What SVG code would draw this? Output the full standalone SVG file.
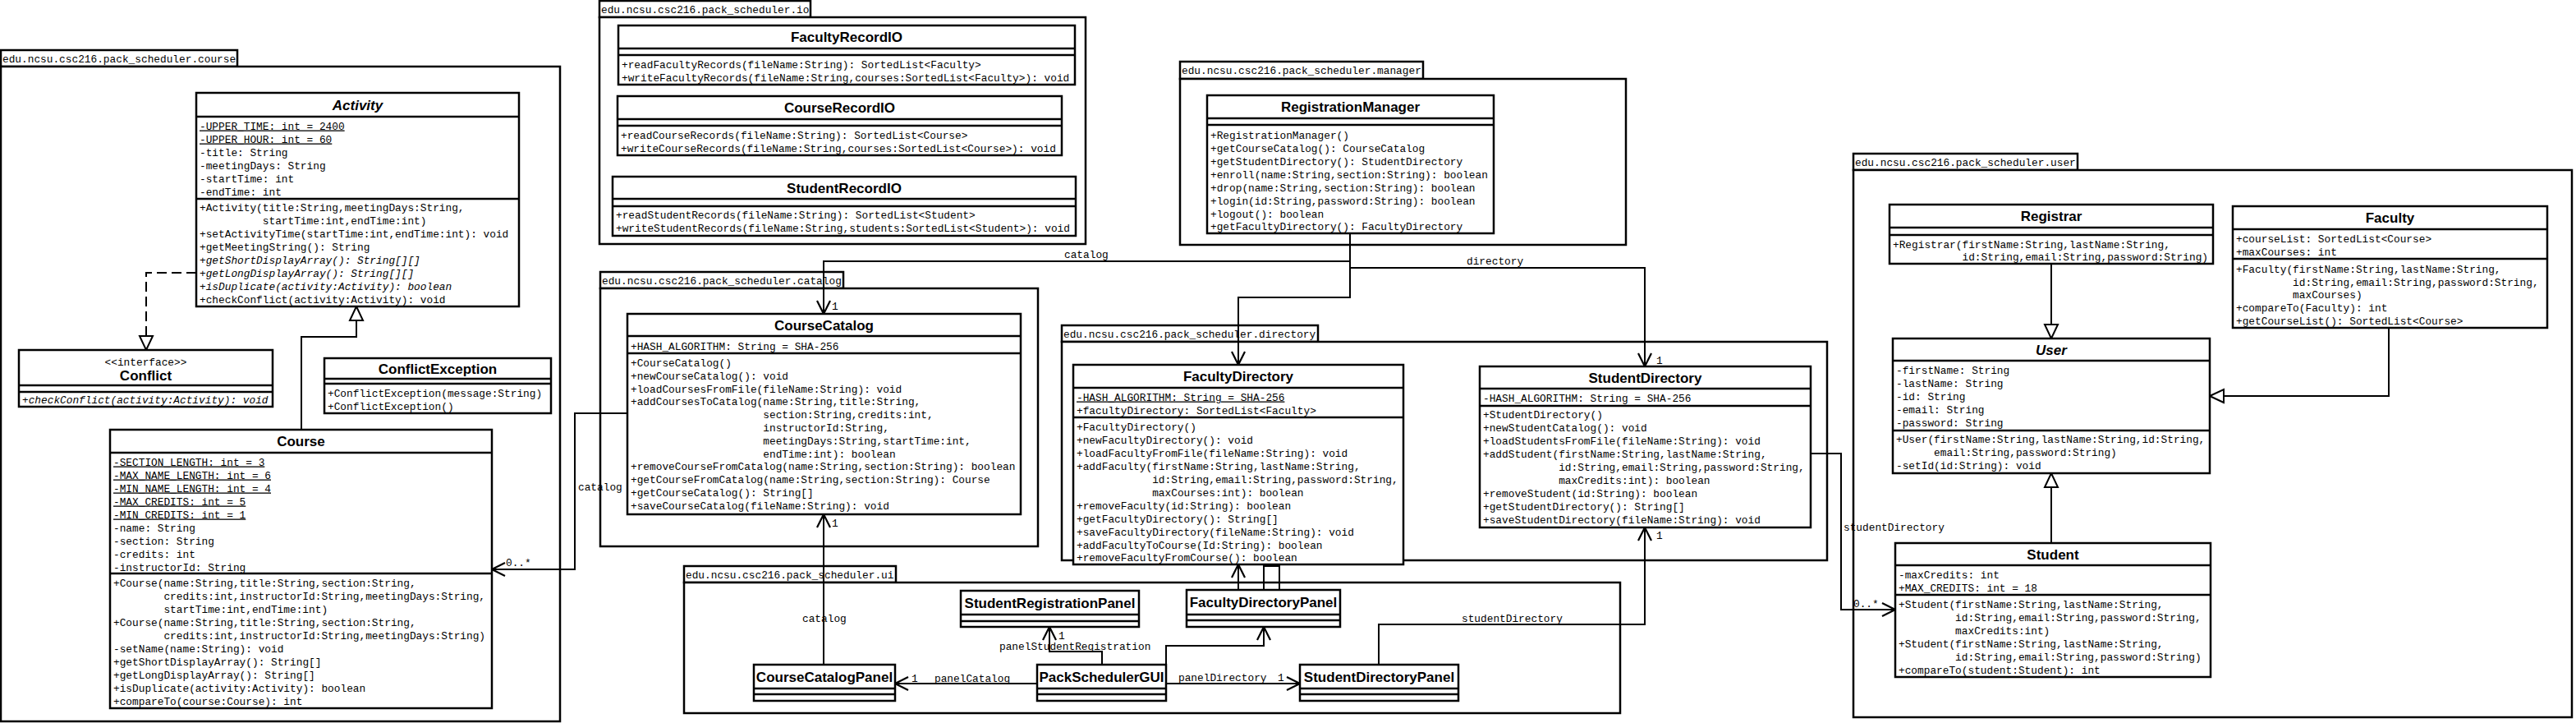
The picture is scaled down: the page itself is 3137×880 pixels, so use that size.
<svg xmlns="http://www.w3.org/2000/svg" width="3137" height="880" viewBox="0 0 3137 880">
<defs>
<style>
.pk{fill:#fff;stroke:#000;stroke-width:2.5}
.bx{fill:#fff;stroke:#000;stroke-width:2.5}
.sp{stroke:#000;stroke-width:2.5}
.m{font-family:"Liberation Mono","DejaVu Sans Mono",monospace;font-size:12.8px;fill:#000}
.i{font-style:italic}
.u{text-decoration:underline}
.mid{text-anchor:middle}
.t{font-family:"Liberation Sans",Arial,sans-serif;font-weight:bold;font-size:17px;text-anchor:middle;fill:#000}
.c{fill:none;stroke:#000;stroke-width:2}
.d{stroke-dasharray:12 6}
</style>
<marker id="open" viewBox="0 0 18 18" refX="17" refY="9" markerWidth="18" markerHeight="18" orient="auto" markerUnits="userSpaceOnUse">
<path d="M1,1 L17,9 L1,17" fill="none" stroke="#000" stroke-width="2.2" stroke-dasharray="none"/>
</marker>
<marker id="tri" viewBox="0 0 20 20" refX="19" refY="10" markerWidth="20" markerHeight="20" orient="auto" markerUnits="userSpaceOnUse">
<path d="M2,2 L19,10 L2,18 Z" fill="#fff" stroke="#000" stroke-width="2" stroke-dasharray="none"/>
</marker>
</defs>
<rect width="3137" height="880" fill="#fff"/>

<!-- packages -->
<g id="pkg-course">
<rect class="pk" x="1" y="61" width="288" height="20"/>
<rect class="pk" x="1" y="81" width="681" height="797"/>
<text class="m" x="3" y="76">edu.ncsu.csc216.pack_scheduler.course</text>
</g>
<g id="pkg-io">
<rect class="pk" x="730" y="1" width="257" height="20"/>
<rect class="pk" x="730" y="21" width="592" height="276"/>
<text class="m" x="732" y="16">edu.ncsu.csc216.pack_scheduler.io</text>
</g>
<g id="pkg-manager">
<rect class="pk" x="1437" y="75" width="296" height="21"/>
<rect class="pk" x="1437" y="96" width="543" height="202"/>
<text class="m" x="1439" y="90">edu.ncsu.csc216.pack_scheduler.manager</text>
</g>
<g id="pkg-catalog">
<rect class="pk" x="731" y="331" width="296" height="20"/>
<rect class="pk" x="731" y="351" width="533" height="314"/>
<text class="m" x="733" y="346">edu.ncsu.csc216.pack_scheduler.catalog</text>
</g>
<g id="pkg-directory">
<rect class="pk" x="1293" y="396" width="312" height="20"/>
<rect class="pk" x="1293" y="416" width="932" height="266"/>
<text class="m" x="1295" y="411">edu.ncsu.csc216.pack_scheduler.directory</text>
</g>
<g id="pkg-ui">
<rect class="pk" x="833" y="689" width="258" height="20"/>
<rect class="pk" x="833" y="709" width="1140" height="159"/>
<text class="m" x="835" y="704">edu.ncsu.csc216.pack_scheduler.ui</text>
</g>
<g id="pkg-user">
<rect class="pk" x="2257" y="187" width="273" height="20"/>
<rect class="pk" x="2257" y="207" width="875" height="666"/>
<text class="m" x="2259" y="202">edu.ncsu.csc216.pack_scheduler.user</text>
</g>

<!-- classes -->
<g id="Activity">
<rect class="bx" x="239" y="113" width="393" height="260"/>
<line class="sp" x1="239" y1="142" x2="632" y2="142"/>
<line class="sp" x1="239" y1="242" x2="632" y2="242"/>
<text class="t" font-style="italic" x="435.5" y="133.5">Activity</text>
<text class="m u" x="243" y="157.5">-UPPER_TIME: int = 2400</text>
<text class="m u" x="243" y="173.5">-UPPER_HOUR: int = 60</text>
<text class="m" x="243" y="189.5">-title: String</text>
<text class="m" x="243" y="205.5">-meetingDays: String</text>
<text class="m" x="243" y="221.5">-startTime: int</text>
<text class="m" x="243" y="237.5">-endTime: int</text>
<text class="m" x="243" y="256.5">+Activity(title:String,meetingDays:String,</text>
<text class="m" x="319.8" y="272.5">startTime:int,endTime:int)</text>
<text class="m" x="243" y="288.5">+setActivityTime(startTime:int,endTime:int): void</text>
<text class="m" x="243" y="304.5">+getMeetingString(): String</text>
<text class="m i" x="243" y="320.5">+getShortDisplayArray(): String[][]</text>
<text class="m i" x="243" y="336.5">+getLongDisplayArray(): String[][]</text>
<text class="m i" x="243" y="352.5">+isDuplicate(activity:Activity): boolean</text>
<text class="m" x="243" y="368.5">+checkConflict(activity:Activity): void</text>
</g>
<g id="Conflict">
<rect class="bx" x="23" y="426" width="309" height="69"/>
<line class="sp" x1="23" y1="469" x2="332" y2="469"/>
<line class="sp" x1="23" y1="477" x2="332" y2="477"/>
<text class="m mid" x="177.5" y="445">&lt;&lt;interface&gt;&gt;</text>
<text class="t" x="177.5" y="463">Conflict</text>
<text class="m i" x="27" y="490.5">+checkConflict(activity:Activity): void</text>
</g>
<g id="ConflictException">
<rect class="bx" x="395" y="436" width="276" height="67"/>
<line class="sp" x1="395" y1="461" x2="671" y2="461"/>
<line class="sp" x1="395" y1="467" x2="671" y2="467"/>
<text class="t" x="533" y="454.5">ConflictException</text>
<text class="m" x="399" y="482.5">+ConflictException(message:String)</text>
<text class="m" x="399" y="498.5">+ConflictException()</text>
</g>
<g id="Course">
<rect class="bx" x="134" y="523" width="465" height="339"/>
<line class="sp" x1="134" y1="551" x2="599" y2="551"/>
<line class="sp" x1="134" y1="698" x2="599" y2="698"/>
<text class="t" x="366.5" y="543">Course</text>
<text class="m u" x="138" y="566.5">-SECTION_LENGTH: int = 3</text>
<text class="m u" x="138" y="582.5">-MAX_NAME_LENGTH: int = 6</text>
<text class="m u" x="138" y="598.5">-MIN_NAME_LENGTH: int = 4</text>
<text class="m u" x="138" y="614.5">-MAX_CREDITS: int = 5</text>
<text class="m u" x="138" y="630.5">-MIN_CREDITS: int = 1</text>
<text class="m" x="138" y="646.5">-name: String</text>
<text class="m" x="138" y="662.5">-section: String</text>
<text class="m" x="138" y="678.5">-credits: int</text>
<text class="m" x="138" y="694.5">-instructorId: String</text>
<text class="m" x="138" y="713.5">+Course(name:String,title:String,section:String,</text>
<text class="m" x="199.4" y="729.5">credits:int,instructorId:String,meetingDays:String,</text>
<text class="m" x="199.4" y="745.5">startTime:int,endTime:int)</text>
<text class="m" x="138" y="761.5">+Course(name:String,title:String,section:String,</text>
<text class="m" x="199.4" y="777.5">credits:int,instructorId:String,meetingDays:String)</text>
<text class="m" x="138" y="793.5">-setName(name:String): void</text>
<text class="m" x="138" y="809.5">+getShortDisplayArray(): String[]</text>
<text class="m" x="138" y="825.5">+getLongDisplayArray(): String[]</text>
<text class="m" x="138" y="841.5">+isDuplicate(activity:Activity): boolean</text>
<text class="m" x="138" y="857.5">+compareTo(course:Course): int</text>
</g>
<g id="FacultyRecordIO">
<rect class="bx" x="753" y="31" width="556" height="72"/>
<line class="sp" x1="753" y1="59" x2="1309" y2="59"/>
<line class="sp" x1="753" y1="67" x2="1309" y2="67"/>
<text class="t" x="1031" y="51">FacultyRecordIO</text>
<text class="m" x="757" y="82.5">+readFacultyRecords(fileName:String): SortedList&lt;Faculty&gt;</text>
<text class="m" x="757" y="98.5">+writeFacultyRecords(fileName:String,courses:SortedList&lt;Faculty&gt;): void</text>
</g>
<g id="CourseRecordIO">
<rect class="bx" x="752" y="117" width="541" height="72"/>
<line class="sp" x1="752" y1="145" x2="1293" y2="145"/>
<line class="sp" x1="752" y1="153" x2="1293" y2="153"/>
<text class="t" x="1022.5" y="137">CourseRecordIO</text>
<text class="m" x="756" y="168.5">+readCourseRecords(fileName:String): SortedList&lt;Course&gt;</text>
<text class="m" x="756" y="184.5">+writeCourseRecords(fileName:String,courses:SortedList&lt;Course&gt;): void</text>
</g>
<g id="StudentRecordIO">
<rect class="bx" x="746" y="215" width="564" height="72"/>
<line class="sp" x1="746" y1="242" x2="1310" y2="242"/>
<line class="sp" x1="746" y1="251" x2="1310" y2="251"/>
<text class="t" x="1028" y="234.5">StudentRecordIO</text>
<text class="m" x="750" y="265.5">+readStudentRecords(fileName:String): SortedList&lt;Student&gt;</text>
<text class="m" x="750" y="281.5">+writeStudentRecords(fileName:String,students:SortedList&lt;Student&gt;): void</text>
</g>
<g id="RegistrationManager">
<rect class="bx" x="1470" y="116" width="349" height="168"/>
<line class="sp" x1="1470" y1="144" x2="1819" y2="144"/>
<line class="sp" x1="1470" y1="152" x2="1819" y2="152"/>
<text class="t" x="1644.5" y="136">RegistrationManager</text>
<text class="m" x="1474" y="168.5">+RegistrationManager()</text>
<text class="m" x="1474" y="184.5">+getCourseCatalog(): CourseCatalog</text>
<text class="m" x="1474" y="200.5">+getStudentDirectory(): StudentDirectory</text>
<text class="m" x="1474" y="216.5">+enroll(name:String,section:String): boolean</text>
<text class="m" x="1474" y="232.5">+drop(name:String,section:String): boolean</text>
<text class="m" x="1474" y="248.5">+login(id:String,password:String): boolean</text>
<text class="m" x="1474" y="264.5">+logout(): boolean</text>
<text class="m" x="1474" y="280">+getFacultyDirectory(): FacultyDirectory</text>
</g>
<g id="CourseCatalog">
<rect class="bx" x="764" y="382" width="479" height="244"/>
<line class="sp" x1="764" y1="409" x2="1243" y2="409"/>
<line class="sp" x1="764" y1="430" x2="1243" y2="430"/>
<text class="t" x="1003.5" y="401.5">CourseCatalog</text>
<text class="m" x="768" y="425.5">+HASH_ALGORITHM: String = SHA-256</text>
<text class="m" x="768" y="446">+CourseCatalog()</text>
<text class="m" x="768" y="461.8">+newCourseCatalog(): void</text>
<text class="m" x="768" y="477.6">+loadCoursesFromFile(fileName:String): void</text>
<text class="m" x="768" y="493.4">+addCoursesToCatalog(name:String,title:String,</text>
<text class="m" x="929.3" y="509.2">section:String,credits:int,</text>
<text class="m" x="929.3" y="525">instructorId:String,</text>
<text class="m" x="929.3" y="540.8">meetingDays:String,startTime:int,</text>
<text class="m" x="929.3" y="556.6">endTime:int): boolean</text>
<text class="m" x="768" y="572.4">+removeCourseFromCatalog(name:String,section:String): boolean</text>
<text class="m" x="768" y="588.2">+getCourseFromCatalog(name:String,section:String): Course</text>
<text class="m" x="768" y="604">+getCourseCatalog(): String[]</text>
<text class="m" x="768" y="619.8">+saveCourseCatalog(fileName:String): void</text>
</g>
<g id="FacultyDirectory">
<rect class="bx" x="1307" y="444" width="402" height="243"/>
<line class="sp" x1="1307" y1="472" x2="1709" y2="472"/>
<line class="sp" x1="1307" y1="508" x2="1709" y2="508"/>
<text class="t" x="1508" y="464">FacultyDirectory</text>
<text class="m u" x="1311" y="487.5">-HASH_ALGORITHM: String = SHA-256</text>
<text class="m" x="1311" y="503.5">+facultyDirectory: SortedList&lt;Faculty&gt;</text>
<text class="m" x="1311" y="523.5">+FacultyDirectory()</text>
<text class="m" x="1311" y="539.5">+newFacultyDirectory(): void</text>
<text class="m" x="1311" y="555.5">+loadFacultyFromFile(fileName:String): void</text>
<text class="m" x="1311" y="571.5">+addFaculty(firstName:String,lastName:String,</text>
<text class="m" x="1403.2" y="587.5">id:String,email:String,password:String,</text>
<text class="m" x="1403.2" y="603.5">maxCourses:int): boolean</text>
<text class="m" x="1311" y="619.5">+removeFaculty(id:String): boolean</text>
<text class="m" x="1311" y="635.5">+getFacultyDirectory(): String[]</text>
<text class="m" x="1311" y="651.5">+saveFacultyDirectory(fileName:String): void</text>
<text class="m" x="1311" y="667.5">+addFacultyToCourse(Id:String): boolean</text>
<text class="m" x="1311" y="683">+removeFacultyFromCourse(): boolean</text>
</g>
<g id="StudentDirectory">
<rect class="bx" x="1802" y="446" width="403" height="196"/>
<line class="sp" x1="1802" y1="473" x2="2205" y2="473"/>
<line class="sp" x1="1802" y1="494" x2="2205" y2="494"/>
<text class="t" x="2003.5" y="465.5">StudentDirectory</text>
<text class="m" x="1806" y="488.5">-HASH_ALGORITHM: String = SHA-256</text>
<text class="m" x="1806" y="508.5">+StudentDirectory()</text>
<text class="m" x="1806" y="524.5">+newStudentCatalog(): void</text>
<text class="m" x="1806" y="540.5">+loadStudentsFromFile(fileName:String): void</text>
<text class="m" x="1806" y="556.5">+addStudent(firstName:String,lastName:String,</text>
<text class="m" x="1898.2" y="572.5">id:String,email:String,password:String,</text>
<text class="m" x="1898.2" y="588.5">maxCredits:int): boolean</text>
<text class="m" x="1806" y="604.5">+removeStudent(id:String): boolean</text>
<text class="m" x="1806" y="620.5">+getStudentDirectory(): String[]</text>
<text class="m" x="1806" y="636.5">+saveStudentDirectory(fileName:String): void</text>
</g>
<g id="StudentRegistrationPanel">
<rect class="bx" x="1170" y="719" width="217" height="44"/>
<line class="sp" x1="1170" y1="748" x2="1387" y2="748"/>
<line class="sp" x1="1170" y1="756" x2="1387" y2="756"/>
<text class="t" x="1278.5" y="739.5">StudentRegistrationPanel</text>
</g>
<g id="CourseCatalogPanel">
<rect class="bx" x="918" y="809" width="172" height="44"/>
<line class="sp" x1="918" y1="838" x2="1090" y2="838"/>
<line class="sp" x1="918" y1="845" x2="1090" y2="845"/>
<text class="t" x="1004" y="829.5">CourseCatalogPanel</text>
</g>
<g id="PackSchedulerGUI">
<rect class="bx" x="1263" y="809" width="157" height="44"/>
<line class="sp" x1="1263" y1="838" x2="1420" y2="838"/>
<line class="sp" x1="1263" y1="845" x2="1420" y2="845"/>
<text class="t" x="1341.5" y="829.5">PackSchedulerGUI</text>
</g>
<g id="FacultyDirectoryPanel">
<rect class="bx" x="1445" y="718" width="187" height="45"/>
<line class="sp" x1="1445" y1="748" x2="1632" y2="748"/>
<line class="sp" x1="1445" y1="755" x2="1632" y2="755"/>
<text class="t" x="1538.5" y="739">FacultyDirectoryPanel</text>
</g>
<g id="StudentDirectoryPanel">
<rect class="bx" x="1583" y="809" width="193" height="44"/>
<line class="sp" x1="1583" y1="838" x2="1776" y2="838"/>
<line class="sp" x1="1583" y1="845" x2="1776" y2="845"/>
<text class="t" x="1679.5" y="829.5">StudentDirectoryPanel</text>
</g>
<g id="Registrar">
<rect class="bx" x="2301" y="249" width="394" height="72"/>
<line class="sp" x1="2301" y1="277" x2="2695" y2="277"/>
<line class="sp" x1="2301" y1="286" x2="2695" y2="286"/>
<text class="t" x="2498" y="269">Registrar</text>
<text class="m" x="2305" y="301.5">+Registrar(firstName:String,lastName:String,</text>
<text class="m" x="2389.5" y="316.5">id:String,email:String,password:String)</text>
</g>
<g id="Faculty">
<rect class="bx" x="2719" y="251" width="383" height="148"/>
<line class="sp" x1="2719" y1="279" x2="3102" y2="279"/>
<line class="sp" x1="2719" y1="315" x2="3102" y2="315"/>
<text class="t" x="2910.5" y="271">Faculty</text>
<text class="m" x="2723" y="294.5">+courseList: SortedList&lt;Course&gt;</text>
<text class="m" x="2723" y="310.5">+maxCourses: int</text>
<text class="m" x="2723" y="331.5">+Faculty(firstName:String,lastName:String,</text>
<text class="m" x="2792.1" y="347.5">id:String,email:String,password:String,</text>
<text class="m" x="2792.1" y="362.5">maxCourses)</text>
<text class="m" x="2723" y="378.5">+compareTo(Faculty): int</text>
<text class="m" x="2723" y="394.5">+getCourseList(): SortedList&lt;Course&gt;</text>
</g>
<g id="User">
<rect class="bx" x="2305" y="412" width="386" height="164"/>
<line class="sp" x1="2305" y1="439" x2="2691" y2="439"/>
<line class="sp" x1="2305" y1="524" x2="2691" y2="524"/>
<text class="t" font-style="italic" x="2498" y="431.5">User</text>
<text class="m" x="2309" y="454.5">-firstName: String</text>
<text class="m" x="2309" y="470.5">-lastName: String</text>
<text class="m" x="2309" y="486.5">-id: String</text>
<text class="m" x="2309" y="502.5">-email: String</text>
<text class="m" x="2309" y="518.5">-password: String</text>
<text class="m" x="2309" y="539">+User(firstName:String,lastName:String,id:String,</text>
<text class="m" x="2355.1" y="555">email:String,password:String)</text>
<text class="m" x="2309" y="571">-setId(id:String): void</text>
</g>
<g id="Student">
<rect class="bx" x="2308" y="661" width="384" height="163"/>
<line class="sp" x1="2308" y1="688" x2="2692" y2="688"/>
<line class="sp" x1="2308" y1="724" x2="2692" y2="724"/>
<text class="t" x="2500" y="680.5">Student</text>
<text class="m" x="2312" y="703.5">-maxCredits: int</text>
<text class="m" x="2312" y="719.5">+MAX_CREDITS: int = 18</text>
<text class="m" x="2312" y="739.5">+Student(firstName:String,lastName:String,</text>
<text class="m" x="2381.1" y="755.5">id:String,email:String,password:String,</text>
<text class="m" x="2381.1" y="771.5">maxCredits:int)</text>
<text class="m" x="2312" y="787.5">+Student(firstName:String,lastName:String,</text>
<text class="m" x="2381.1" y="803.5">id:String,email:String,password:String)</text>
<text class="m" x="2312" y="819.5">+compareTo(student:Student): int</text>
</g>

<!-- connectors -->
<g id="connectors">
<path class="c d" d="M239,332 H178 V426" marker-end="url(#tri)"/>
<path class="c" d="M367,523 V410 H434 V373" marker-end="url(#tri)"/>
<path class="c" d="M764,503 H700 V693 H599" marker-end="url(#open)"/>
<path class="c" d="M1644,284 V318 H1003 V382" marker-end="url(#open)"/>
<path class="c" d="M1644,284 V326 H2003 V446" marker-end="url(#open)"/>
<path class="c" d="M1644,284 V362 H1508 V444" marker-end="url(#open)"/>
<path class="c" d="M1003,809 V626" marker-end="url(#open)"/>
<path class="c" d="M1263,832 H1090" marker-end="url(#open)"/>
<path class="c" d="M1342,809 V793 H1278 V763" marker-end="url(#open)"/>
<path class="c" d="M1420,809 V786 H1539 V763" marker-end="url(#open)"/>
<path class="c" d="M1420,832 H1583" marker-end="url(#open)"/>
<path class="c" d="M1679,809 V760 H2003 V642" marker-end="url(#open)"/>
<path class="c" d="M1508,718 V687" marker-end="url(#open)"/>
<path class="c" d="M1539,718 V689 H1558 V718"/>
<path class="c" d="M2205,552 H2242 V742 H2308" marker-end="url(#open)"/>
<path class="c" d="M2498,321 V412" marker-end="url(#tri)"/>
<path class="c" d="M2909,399 V482 H2691" marker-end="url(#tri)"/>
<path class="c" d="M2498,661 V576" marker-end="url(#tri)"/>
<text class="m" x="1296" y="314">catalog</text>
<text class="m" x="1786" y="322">directory</text>
<text class="m" x="1013" y="377">1</text>
<text class="m" x="2017" y="443">1</text>
<text class="m" x="704" y="597">catalog</text>
<text class="m" x="616" y="689">0..*</text>
<text class="m" x="1013" y="641">1</text>
<text class="m" x="977" y="757">catalog</text>
<text class="m" x="1110" y="830">1</text>
<text class="m" x="1138" y="830">panelCatalog</text>
<text class="m" x="1289" y="778">1</text>
<text class="m" x="1217" y="791">panelStudentRegistration</text>
<text class="m" x="1435" y="829">panelDirectory</text>
<text class="m" x="1556" y="829">1</text>
<text class="m" x="1780" y="757">studentDirectory</text>
<text class="m" x="2017" y="656">1</text>
<text class="m" x="2245" y="646">studentDirectory</text>
<text class="m" x="2257" y="739">0..*</text>
</g>
</svg>
